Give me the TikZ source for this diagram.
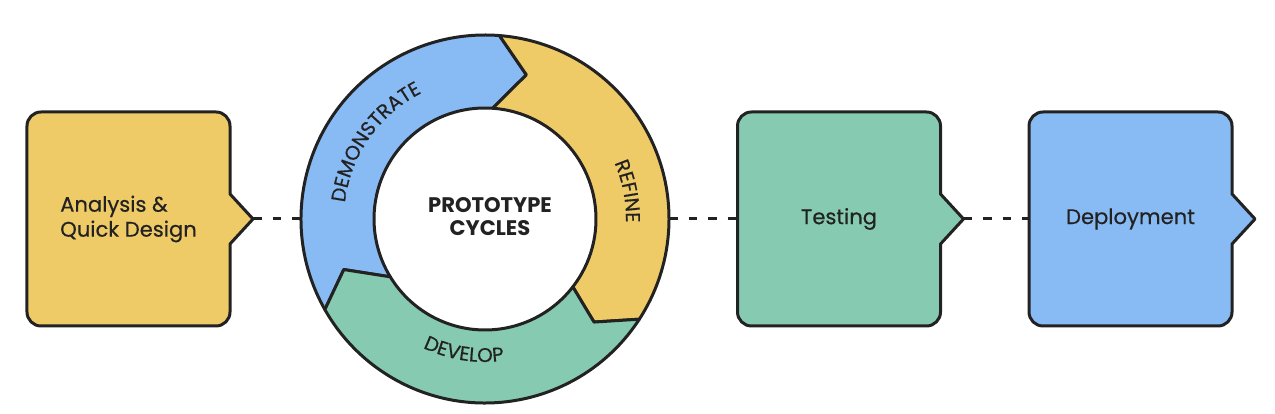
\documentclass[tikz,border=0pt]{standalone}
\usepackage{fontspec}
\setmainfont{Poppins}
\newfontfamily\stagefont[FakeBold=0.45]{Poppins}
\usepackage{xcolor}
\definecolor{StageYellow}{HTML}{EFCB68}
\definecolor{StageGreen}{HTML}{86CBB1}
\definecolor{StageBlue}{HTML}{88BAF4}
\definecolor{InkLine}{HTML}{222222}
\usetikzlibrary{backgrounds,decorations.text}

\newcommand\ringfont{\stagefont\fontsize{11.3}{13}\selectfont}
% outline with the arrow notch, drawn behind the stage node #1
\newcommand\stageshape[2]{%
  \begin{scope}[on background layer]
    \filldraw[outline,fill=#2]
      ([xshift=2.8mm]#1.north west) -- ([xshift=-2.8mm]#1.north east)
      arc[start angle=90,end angle=0,radius=2.8mm]
      -- ([yshift=5mm]#1.east) -- ([xshift=4.6mm]#1.east) coordinate (#1-tip)
      -- ([yshift=-5mm]#1.east) -- ([yshift=2.8mm]#1.south east)
      arc[start angle=0,end angle=-90,radius=2.8mm]
      -- ([xshift=2.8mm]#1.south west)
      arc[start angle=270,end angle=180,radius=2.8mm]
      -- ([yshift=-2.8mm]#1.north west)
      arc[start angle=180,end angle=90,radius=2.8mm] -- cycle;
  \end{scope}}

\begin{document}
\begin{tikzpicture}[
  x=0.2mm,y=0.2mm,
  outline/.style={draw=InkLine,line width=0.6mm,line join=round},
  stage/.style={minimum width=40.6mm,minimum height=42.8mm,inner sep=0pt,outer sep=0pt,
    align=left,font=\stagefont\fontsize{12}{14.2}\selectfont,text=InkLine},
  link/.style={draw=InkLine,line width=0.6mm,dash pattern=on 1.7mm off 2.2mm},
  band/.style={outline},
  bandtext/.style={decorate,decoration={text along path,text align=center,
    text color=InkLine,text={|\ringfont|#1}}}
]
\begin{scope}[on background layer]
  \fill[white] (0,0) rectangle (1275,414);
\end{scope}
\useasboundingbox (0,0) rectangle (1275,414);

\node[stage] (ana) at (128.5,195) {Analysis \&\\Quick Design};
\stageshape{ana}{StageYellow}
\node[stage] (test) at (839,195) {Testing};
\stageshape{test}{StageGreen}
\node[stage] (deploy) at (1130.5,195) {Deployment};
\stageshape{deploy}{StageBlue}

% the cycle
\node[circle,minimum size=73.6mm,inner sep=0pt,outer sep=0pt] (ring) at (485,195) {};
\begin{scope}[shift={(ring.center)}]
  \filldraw[band,fill=StageBlue] (209.5:184) arc[start angle=209.5,end angle=85.5,radius=184]
    -- (74:150) -- (86:111) arc[start angle=86,end angle=211.4,radius=111] -- (199.7:150) -- cycle;
  \filldraw[band,fill=StageYellow] (85.5:184) arc[start angle=85.5,end angle=-33,radius=184]
    -- (-43.4:150) -- (-37.7:111) arc[start angle=-37.7,end angle=86,radius=111] -- (74:150) -- cycle;
  \filldraw[band,fill=StageGreen] (-33:184) arc[start angle=-33,end angle=-150.5,radius=184]
    -- (-160.3:150) -- (-148.6:111) arc[start angle=-148.6,end angle=-37.7,radius=111] -- (-43.4:150) -- cycle;
  \path[bandtext=DEMONSTRATE] (180:141) arc[start angle=180,end angle=110,radius=141];
  \path[bandtext=REFINE] (40:141) arc[start angle=40,end angle=-18,radius=141];
  \path[bandtext=DEVELOP] (-135:143) arc[start angle=-135,end angle=-63,radius=143];
\end{scope}
\node[align=center,font=\fontsize{12}{13}\selectfont\bfseries,text=InkLine] (core) at (490,197) {PROTOTYPE\\CYCLES};

\draw[link] (ana-tip) -- (ring.west);
\draw[link] (ring.east) -- (test.west);
\draw[link] (test-tip) -- (deploy.west);
\end{tikzpicture}
\end{document}
